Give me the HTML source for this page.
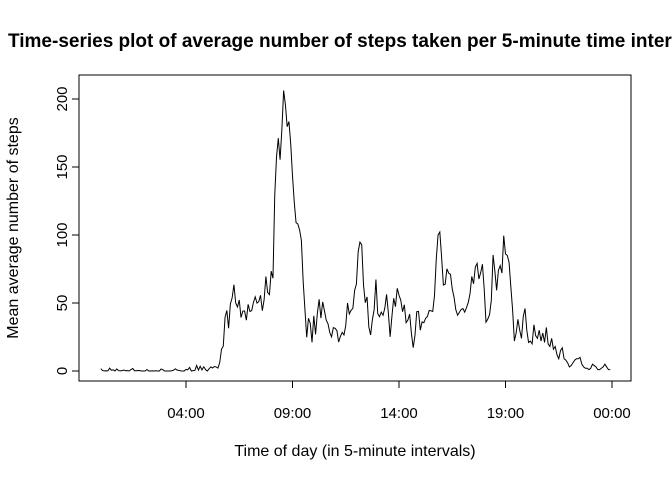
<!DOCTYPE html>
<html><head><meta charset="utf-8"><style>
body{margin:0;background:#fff}
svg{display:block;font-family:"Liberation Sans",Arial,sans-serif}
</style></head><body>
<svg id="chart" width="672" height="480">
<text x="8" y="47" font-size="19" font-weight="bold">Time-series plot of average number of steps taken per 5-minute time interval</text>
<rect x="79" y="75" width="552" height="306" fill="none" stroke="#000"/>
<g id="yaxis"></g>
<g id="xaxis"></g>
<path id="line" fill="none" stroke="#000" stroke-width="1"/>
<text x="355" y="456" font-size="16" text-anchor="middle">Time of day (in 5-minute intervals)</text>
<text transform="translate(18,228) rotate(-90)" font-size="16" text-anchor="middle">Mean average number of steps</text>
</svg>
<script>
const steps = [
1.7,0.3,0.1,0.2,0.1,2.1,0.5,0.9,0,1.5,0.3,0.1,
0.3,0.7,0.2,0.3,0,1.1,1.8,0.2,0.2,0.4,0.3,0,
0,0,1.1,0,0,0.1,0,0.2,0,0,1.5,0.9,
0,0,0,0,0.2,0.6,1.6,0.6,0.5,0.1,0,0,
1.2,0.9,2.6,0,0.3,0.4,4.1,0.7,3.5,0.8,3.1,1.1,
0,1.6,3,2.2,3.3,3,2.1,6.1,16,18.3,39.5,44.5,
31.5,49.3,53.8,63.5,50,47.1,52.2,39.3,44,44.2,37.4,49,
43.8,44.4,50.5,54.5,49.9,51,55.7,44.3,52.3,69.5,57.8,56.2,
73.4,68.2,129.4,157.5,171.2,155.4,177.3,206.2,195.9,179.6,183.4,167,
143.5,124,109.1,108.1,103.7,96,66.2,45.2,24.8,38.8,35,21.1,
40.6,27,42.4,52.7,38.9,50.8,44.3,37.4,34.7,28.3,25.1,31.9,
31.4,29.7,21.3,25.5,28.4,26.5,33.4,50,42,44.6,46,59.2,
63.9,87.7,94.8,92.8,63.4,50.2,54.5,32.4,26.5,37.7,45.1,67.3,
42.3,39.9,43.3,41,46.2,56.4,42.8,25.1,40,53.5,47.3,60.8,
55.8,52,43.6,48.7,35.5,37.5,41.8,27.5,17.1,26.1,43.6,43.8,
30,36.1,35.5,38.8,40.1,44.5,44.3,43.8,55.5,82.4,100,102.2,
83.8,63.2,63.8,75.1,71.9,71.1,60.3,54.3,45.1,41,43.1,45.2,
45.9,43.3,46.5,50.3,56.7,69.5,64.1,76.4,79.1,67.7,72.2,78.5,
60.3,35.9,38.1,41.4,51.8,85.3,73.6,59.3,73.9,77.5,72,99.5,
86,85,80,62,45,22,28,38,30,24,40,46,
30,21,22,20,34,26,24,30,22,28,21,32,
20,18,24,16,18,12,9,15,17,9,8,6,
3,4,6,8,9,9,10,5,3,2,2,1,
2,5,4,3,1,1,2,3,5,3,1,1
];
const yTicks = [0,50,100,150,200];
const xTickHours = [4,9,14,19,24];
const xTickLabels = ["04:00","09:00","14:00","19:00","00:00"];

const NS="http://www.w3.org/2000/svg";
const X0=100.8, PXH=21.3;
const xHour = h => X0 + h*PXH;
const xIdx = i => xHour(i*5/60);
const yS = v => 371 - v*1.36;

function mk(tag, attrs, parent){const e=document.createElementNS(NS,tag);for(const k in attrs)e.setAttribute(k,attrs[k]);parent.appendChild(e);return e;}

let d="";
steps.forEach((v,i)=>{d+=(i?"L":"M")+xIdx(i).toFixed(2)+","+yS(v).toFixed(2);});
document.getElementById("line").setAttribute("d",d);

const ya=document.getElementById("yaxis");
mk("line",{x1:79,x2:79,y1:yS(0),y2:yS(200),stroke:"#000"},ya);
yTicks.forEach(t=>{
  const l=mk("line",{x1:72,x2:79,y1:yS(t),y2:yS(t),stroke:"#000"},ya);
  
  
  const tx=mk("text",{transform:`translate(67,${yS(t)}) rotate(-90)`,"text-anchor":"middle","font-size":"15"},ya);
  
  
  tx.textContent=t;
});
const xa=document.getElementById("xaxis");
mk("line",{x1:xHour(4),x2:xHour(24),y1:381,y2:381,stroke:"#000"},xa);
xTickHours.forEach((h,i)=>{
  const l=mk("line",{x1:xHour(h),x2:xHour(h),y1:381,y2:388,stroke:"#000"},xa);
  
  
  const tx=mk("text",{x:xHour(h),y:418,"text-anchor":"middle","font-size":"15"},xa);
  
  
  tx.textContent=xTickLabels[i];
});
</script>
</body></html>
